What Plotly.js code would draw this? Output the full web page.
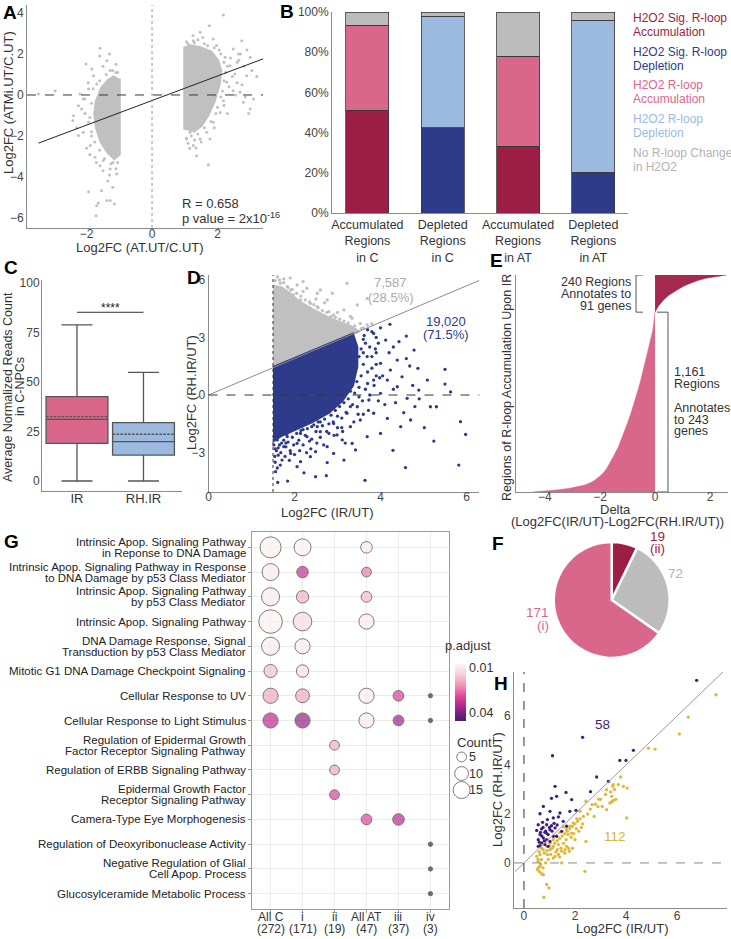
<!DOCTYPE html>
<html><head><meta charset="utf-8">
<script src="https://cdn.plot.ly/plotly-3.0.1.min.js"></script>
<style>html,body{margin:0;padding:0;background:#fff}#chart{width:731px;height:939px}</style>
</head><body><div id="chart"></div>
<script>
// ================= DATA =================
// Panel A: Log2FC (AT.UT/C.UT) vs Log2FC (ATMi.UT/C.UT)
const aRightCoreX = [1.0,1.0,1.2,1.5,1.8,2.0,2.1,2.05,1.9,1.7,1.5,1.25];
const aRightCoreY = [-1.7,2.3,2.4,2.3,2.1,1.7,1.2,0.5,-0.3,-1.0,-1.5,-1.8];
const aLeftCoreX = [-1.0,-1.0,-1.15,-1.35,-1.55,-1.7,-1.75,-1.7,-1.55,-1.35,-1.15];
const aLeftCoreY = [0.8,-2.9,-3.1,-2.8,-2.3,-1.6,-0.9,-0.3,0.3,0.7,0.9];
const aPtsX = [2.18,1.75,1.47,1.26,1.87,2.48,2.64,2.38,2.53,2.28,2.48,2.18,2.08,1.87,1.67,1.47,1.26,1.77,1.34,1.72,1.36,1.06,1.16,2.23,1.97,
  2.74,3.0,2.89,2.69,2.79,3.1,3.0,2.8,2.9,3.05,2.75,3.2,2.85,2.65,2.95,
  1.05,1.1,1.3,1.4,1.6,1.7,1.9,2.1,2.2,2.25,2.2,2.15,2.1,2.0,1.95,1.8,1.6,1.4,1.2,1.05,1.1,1.3,2.3,2.35,2.4,2.2,2.45,2.6,2.55,1.5,1.9,2.05,1.55,1.25,1.15,2.3,2.6,2.7,
  -1.59,-1.38,-2.02,-1.79,-1.69,-1.94,-2.2,-2.4,-2.96,-3.47,-2.15,-1.94,-2.1,-1.89,-1.74,-1.59,-1.28,-1.08,-1.94,-1.54,-1.38,-1.28,-1.15,-1.64,-1.71,-1.69,-2.25,-1.49,-1.18,-2.25,-2.05,-1.84,-1.28,-1.13,-2.42,-1.85,-1.9,-1.2,-1.1,
  -1.05,-1.2,-1.4,-1.6,-1.8,-1.85,-1.9,-1.85,-1.75,-1.6,-1.45,-1.25,-1.05,-1.1,-1.3,-1.5,-1.7,-2.0,-2.05,-1.95,-1.5,-1.1,-2.3,-2.1,-1.35,-1.2,-1.6,-1.3];
const aPtsY = [3.9,3.38,3.06,2.65,2.73,2.24,2.0,1.43,1.02,0.62,0.21,-0.28,-0.85,-1.33,-1.82,-2.15,-2.47,-2.15,-2.59,-3.4,-2.96,-2.15,-1.82,1.84,2.41,
  2.65,1.84,0.94,0.13,-0.36,-0.2,-0.68,1.4,2.2,1.2,0.5,0.9,-0.1,1.7,-0.9,
  2.6,2.5,2.55,2.7,2.5,2.4,2.3,2.0,1.6,1.1,0.7,0.2,-0.1,-0.6,-0.9,-1.3,-1.6,-1.9,-2.0,-2.1,-2.35,-2.2,1.4,0.4,1.8,-0.5,0.9,1.6,0.0,-2.3,-1.6,2.2,2.8,2.9,-2.6,-0.9,0.6,2.0,
  2.28,1.67,1.51,0.94,0.54,0.29,0.05,-1.01,0.21,0.05,-0.68,-1.33,-1.82,-2.47,-3.04,-3.45,-3.61,-3.85,-4.72,-4.67,-5.15,-5.15,-5.32,-5.27,-5.89,-5.4,-1.98,-3.2,-2.96,-0.52,-0.2,1.27,1.19,0.86,-1.25,-2.0,-2.9,-3.3,1.1,
  1.1,1.2,1.0,0.7,0.3,-0.4,-1.1,-1.8,-2.3,-2.7,-3.1,-3.35,-3.3,-3.6,-3.9,-3.7,-3.3,-2.6,-0.9,0.6,1.4,1.5,-1.6,-0.2,-4.2,-4.5,1.9,2.0];
const aFitX = [-3.47, 3.39];
const aFitY = [-2.35, 1.76];

// Panel B: stacked shares
const bCats = ['Accumulated<br>Regions<br>in C','Depleted<br>Regions<br>in C','Accumulated<br>Regions<br>in AT','Depleted<br>Regions<br>in AT'];
const bSigAcc = [0.512,0,0.333,0];
const bSigDep = [0,0.423,0,0.204];
const bAcc = [0.423,0,0.447,0];
const bDep = [0,0.557,0,0.756];
const bNone = [0.065,0.020,0.220,0.040];
const bLegend = [['H2O2 Sig. R-loop','Accumulation'],['H2O2 Sig. R-loop','Depletion'],['H2O2 R-loop','Accumulation'],['H2O2 R-loop','Depletion'],['No R-loop Change','in H2O2']];

// Panel C: box statistics
const cCats = ['IR','RH.IR'];
const cQ1 = [19.0,13.1], cMed = [31.1,19.9], cQ3 = [42.6,29.5], cLow = [0,0], cHigh = [78.8,54.9], cMean = [32.5,23.6];
const cSigY = [85.2,85.2];

// Panel D
const dGrayCoreX = [1.5,3.5,3.3,3.0,2.7,2.4,2.1,1.9,1.7,1.5];
const dGrayCoreY = [1.42,3.31,3.6,3.85,4.15,4.5,4.9,5.3,5.6,5.7];
const dGrayX = [3.22,3.69,3.46,3.15,2.91,3.34,3.53,2.76,2.53,2.29,2.06,1.83,1.67,2.14,1.91,2.53,2.37,2.99,3.69,3.11,2.8,1.56,1.6,1.97,2.6,2.88,1.75,2.2,3.8,
  1.55,1.65,1.75,1.85,1.95,2.05,2.15,2.25,2.35,2.45,2.55,2.65,2.75,2.85,2.95,3.05,3.15,3.25,3.4,3.55,3.6,2.2,2.5,2.7,1.6,1.9,3.0,3.3];
const dGrayY = [5.82,5.03,4.69,4.43,4.17,4.0,3.73,4.95,5.3,5.56,5.73,5.64,5.82,4.95,5.47,4.6,4.77,3.82,3.65,3.56,4.34,5.38,4.95,5.21,5.47,5.3,6.05,5.9,3.7,
  5.95,6.0,5.85,5.6,5.5,5.3,5.15,4.95,4.85,4.7,4.55,4.4,4.3,4.1,4.05,3.95,3.85,3.75,3.6,3.45,3.5,5.4,5.0,4.8,6.15,6.1,4.3,4.1];
const dBlueCoreX = [1.5,3.35,3.45,3.45,3.35,3.1,2.8,2.4,2.0,1.7,1.5];
const dBlueCoreY = [1.42,3.17,2.5,1.5,0.5,-0.3,-0.9,-1.4,-1.8,-2.1,-2.4];
const dBlueX = [4.22,4.6,4.78,4.43,4.12,3.84,4.87,4.68,5.5,5.09,5.5,5.63,5.16,5.3,5.02,5.24,5.86,5.98,5.82,4.58,4.29,3.64,1.84,1.61,2.49,2.74,
  4.47,4.16,4.54,4.62,4.89,4.39,4.16,4.0,3.69,3.42,3.15,2.91,2.76,2.37,2.14,1.91,1.67,1.56,1.75,2.06,2.29,2.6,2.99,3.3,3.53,3.84,3.73,4.0,3.84,4.0,3.69,4.39,4.23,4.5,
  3.46,3.22,2.91,2.53,2.14,1.83,1.6,3.11,3.34,2.76,2.49,1.62,1.71,2.06,2.22,
  3.6,3.75,3.9,3.8,3.9,3.7,3.5,3.3,3.0,2.6,2.2,1.8,1.55,1.65,2.4,2.8,3.1,3.6,4.1,4.3,4.05,4.2,4.3,3.95,4.6,4.75,4.35,4.8,4.7,4.9,
  1.52,1.58,1.54,1.62,1.68,1.55,1.6,1.7,1.75,1.8,1.85,1.9,1.95,1.78,1.88,1.98,2.0,1.82,
  2.05,2.1,2.15,2.2,2.25,2.3,2.35,2.12,2.28,2.4,2.38,2.18,2.45,2.5,2.55,2.6,2.65,2.7,2.75,2.52,2.68,2.8,2.58,
  2.85,2.9,2.95,3.0,3.05,3.1,3.15,3.2,2.92,3.12,3.18,3.25,3.3,3.35,3.4,3.45,3.5,3.55,3.6,3.5,3.55,3.6,3.48,3.38,3.58,
  3.65,3.7,3.75,3.8,3.85,3.9,3.95,3.65,3.72,3.88,3.98,3.62,3.7,3.8,4.0,3.9];
const dBlueY = [3.68,3.07,2.34,2.78,2.86,3.21,1.39,1.51,1.34,0.78,0.57,0.16,-0.61,-0.61,-1.7,-2.4,-1.39,-2.05,-3.65,-3.78,-2.88,-4.44,-4.48,-4.55,-4.25,-4.2,
  -1.65,-1.22,-0.92,-0.17,0.26,0.43,0.78,-2.0,-2.17,-2.86,-3.39,-3.04,-3.52,-3.21,-3.47,-3.04,-3.65,-3.99,-2.69,-2.52,-2.17,-1.91,-2.08,-1.65,-1.3,-0.95,-0.26,0.09,0.78,1.65,2.0,1.82,1.3,0.95,
  -0.61,-0.95,-1.48,-1.65,-2.0,-2.17,-2.34,-2.34,-2.52,-2.69,-2.95,-3.13,-3.39,-3.73,-4.05,
  2.9,2.5,2.2,1.4,1.0,0.6,-0.1,-0.6,-1.1,-1.4,-1.8,-2.5,-2.8,-2.6,-2.3,-2.0,-1.7,-1.0,-0.5,0.3,1.0,2.2,2.5,2.7,1.9,0.5,-0.4,-0.6,-1.3,-0.2,
  -2.6,-2.9,-3.2,-2.75,-3.0,-3.5,-3.8,-2.5,-2.35,-2.7,-2.45,-2.9,-2.2,-3.2,-3.4,-2.6,-3.1,-2.05,
  -2.0,-2.35,-1.85,-2.6,-2.1,-1.75,-2.4,-2.9,-3.0,-1.65,-2.8,-1.6,-1.55,-1.9,-1.4,-2.2,-1.6,-1.25,-1.9,-2.5,-2.6,-1.5,-1.1,
  -1.05,-1.4,-0.8,-1.7,-0.6,-1.2,-0.4,-0.9,-2.1,-1.9,-2.5,-0.2,0.2,-0.5,0.1,0.7,0.4,1.0,1.6,2.0,2.4,2.2,-1.0,-1.4,-0.3,
  0.3,1.2,0.0,2.0,0.5,1.6,-0.3,2.7,-0.8,2.4,0.9,3.1,3.4,3.3,3.5,3.0];
const dDiagX = [0, 6.3];
const dDiagY = [0, 5.97];
const dCutoff = 1.5;

// Panel E: sorted delta per region (rank from bottom)
const ePinkRank = [0,3,8,15,24,35,45,60,77,100,120,150,185,240,292,350,400,450,507,560,615,670,722,780,830,885,937,990,1045,1100,1161];
const ePinkDelta = [-4.45,-4.2,-3.9,-3.5,-3.1,-2.75,-2.55,-2.35,-2.18,-2.02,-1.9,-1.76,-1.64,-1.48,-1.33,-1.2,-1.09,-0.99,-0.88,-0.78,-0.69,-0.6,-0.52,-0.44,-0.36,-0.29,-0.22,-0.15,-0.08,-0.04,0];
const eDarkRank = [1161,1200,1238,1270,1303,1330,1346,1365,1380,1392,1401];
const eDarkDelta = [0,0.12,0.3,0.5,0.79,1.05,1.27,1.55,1.85,2.2,2.6];

// Panel F: pie
const fValues = [19,72,171];
const fTop = ['19','72','171'];
const fSub = ['(ii)','','(i)'];

// Panel G: enrichment dot plot
const gCols = ['All C','i','ii','All AT','iii','iv'];
const gColN = ['(272)','(171)','(19)','(47)','(37)','(3)'];
const gTerms = [
 ['Intrinsic Apop. Signaling Pathway','in Reponse to DNA Damage'],
 ['Intrinsic Apop. Signaling Pathway in Response','to DNA Damage by p53 Class Mediator'],
 ['Intrinsic Apop. Signaling Pathway','by p53 Class Mediator'],
 ['Intrinsic Apop. Signaling Pathway'],
 ['DNA Damage Response, Signal','Transduction by p53 Class Mediator'],
 ['Mitotic G1 DNA Damage Checkpoint Signaling'],
 ['Cellular Response to UV'],
 ['Cellular Response to Light Stimulus'],
 ['Regulation of Epidermal Growth','Factor Receptor Signaling Pathway'],
 ['Regulation of ERBB Signaling Pathway'],
 ['Epidermal Growth Factor','Receptor Signaling Pathway'],
 ['Camera-Type Eye Morphogenesis'],
 ['Regulation of Deoxyribonuclease Activity'],
 ['Negative Regulation of Glial','Cell Apop. Process'],
 ['Glucosylceramide Metabolic Process']];
const gCellCol = [0,1,3, 0,1,3, 0,1,3, 0,1,3, 0,1, 0,1, 0,1,3,4,5, 0,1,3,4,5, 2, 2, 2, 3,4, 5, 5, 5];
const gCellRow = [0,0,0, 1,1,1, 2,2,2, 3,3,3, 4,4, 5,5, 6,6,6,6,6, 7,7,7,7,7, 8, 9, 10, 11,11, 12, 13, 14];
const gCellCount = [23,15,7, 15,7,5, 17,8,6, 29,18,12, 17,12, 9,8, 12,10,12,6,1, 12,12,12,6,1, 5, 5, 5, 6,7, 1, 1, 1];
const gCellP = [0.008,0.008,0.009, 0.009,0.033,0.024, 0.009,0.018,0.017, 0.008,0.012,0.009, 0.009,0.009, 0.016,0.011,
  0.019,0.019,0.009,0.030,0.045, 0.034,0.038,0.009,0.037,0.045, 0.018, 0.019, 0.029, 0.029,0.034, 0.045, 0.045, 0.045];
const gLegendCounts = [5,10,15];
const gPTicks = [0.01, 0.04];

// Panel H
const hPurpleX = [6.77,2.30,1.12,4.29,3.76,4.0,2.85,3.31,2.61,1.22,1.28,1.08,1.65,1.87,0.76,0.63,1.02,1.41,1.35,1.80,2.04,1.15,0.92,0.73,0.56,0.89,1.08,1.22,0.69,1.02,0.50,0.82,0.63,0.95,1.15,0.76,0.56,0.89,0.69,0.63,0.82,1.02,1.28,1.48,1.67,1.54,0.56,0.95,
  0.7,0.85,1.0,0.6,0.75,0.9,1.1,1.3,0.65,1.18,0.8];
const hPurpleY = [7.46,5.13,4.38,4.6,4.19,4.19,3.51,3.33,2.91,3.13,2.72,2.64,2.88,2.59,2.31,2.01,2.11,2.04,1.88,2.11,2.15,1.84,1.77,1.66,1.56,1.56,1.52,1.43,1.39,1.36,1.33,1.25,1.16,1.16,1.09,1.02,0.95,0.95,0.82,0.71,0.75,0.88,1.09,1.29,1.50,1.70,0.68,0.68,
  1.1,1.3,1.45,0.85,1.45,1.2,1.3,1.55,1.25,1.62,0.9];
const hYellowX = [7.53,6.44,6.09,4.88,5.14,3.79,3.50,3.48,3.90,4.05,3.44,3.50,3.37,3.24,2.92,2.67,3.07,3.24,4.03,2.75,2.43,2.20,2.33,2.07,1.93,1.80,1.67,1.54,1.41,1.73,1.86,2.43,2.39,1.28,1.15,1.02,0.89,0.76,1.31,1.48,1.61,1.78,1.67,1.22,1.48,0.92,0.63,0.56,0.63,0.52,0.69,0.76,0.89,0.98,0.78,0.50,0.63,0.82,1.02,1.35,1.15,0.69,0.56,
  0.6,0.7,0.8,0.9,1.0,1.1,1.2,1.3,1.4,1.5,1.6,1.7,1.8,1.9,2.0,2.1,2.2,1.55,1.65,1.75,1.85,1.95,2.05,2.3,2.5,2.6,2.8,3.0,3.2,3.4,3.55,3.6,3.7,3.45,2.9,1.05,1.15,0.95,1.35,1.45,0.85,0.75,0.65,0.55,0.6,1.25,1.4,1.6,1.9,2.0,2.15,2.25];
const hYellowY = [6.87,5.96,5.27,4.69,4.65,3.51,3.20,3.13,3.13,3.06,2.72,2.56,2.45,2.99,2.61,2.38,2.31,2.18,1.84,1.90,2.52,2.11,1.90,1.80,1.63,1.50,1.36,1.47,1.25,1.16,1.22,0.88,-0.34,1.09,0.95,0.82,0.68,0.54,0.54,0.48,0.54,0.48,0.68,0.27,0.0,0.34,0.34,0.07,-0.14,-0.27,-0.44,-0.48,-0.88,-1.02,-1.4,0.27,0.68,0.82,0.54,0.75,0.68,0.14,-0.2,
  0.45,0.6,0.4,0.5,0.7,0.6,0.8,0.9,1.0,1.1,1.2,1.3,1.4,1.5,1.6,1.7,1.8,0.8,0.95,0.6,1.05,1.2,1.4,1.6,2.0,2.2,2.4,2.6,2.8,2.9,3.0,2.6,3.2,2.5,2.3,0.35,0.2,0.15,0.35,0.6,0.0,-0.2,-0.05,0.15,-0.35,0.45,0.25,0.4,0.6,0.95,1.3,1.45];
const hDiagX = [-0.35, 7.96];
const hDiagY = [-0.35, 7.96];
const hCounts = ['58','112'];

// ================= STYLE / LAYOUT =================
const W = 731, H = 939;
const FONT = 'Liberation Sans, Arial, Helvetica, sans-serif';
const px = x => x / W, py = y => 1 - y / H;
const dx = (a, b) => [px(a), px(b)];
const dy = (top, bottom) => [py(bottom), py(top)];
const C = {darkred:'#9c1e44', pink:'#d9678c', navy:'#2e3b8b', lblue:'#9cb9df', gray:'#bcbcbc',
  ptgray:'#c0c0c0', purple:'#3f1f7c', yellow:'#e0b737', edark:'#a6284f'};

function ax(domain, range, extra) {
  return Object.assign({domain: domain, range: range, showgrid:false, zeroline:false, showline:true,
    linecolor:'#8a8a8a', linewidth:1, ticks:'', tickfont:{family:FONT, size:12, color:'#444'},
    fixedrange:true, automargin:false}, extra || {});
}

const traces = [];
// ---- A
traces.push({type:'scatter', mode:'lines', x:aLeftCoreX, y:aLeftCoreY, fill:'toself', fillcolor:C.ptgray, line:{width:3, color:C.ptgray}, xaxis:'x', yaxis:'y', hoverinfo:'skip'});
traces.push({type:'scatter', mode:'lines', x:aRightCoreX, y:aRightCoreY, fill:'toself', fillcolor:C.ptgray, line:{width:3, color:C.ptgray}, xaxis:'x', yaxis:'y', hoverinfo:'skip'});
traces.push({type:'scatter', mode:'markers', x:aPtsX, y:aPtsY, marker:{size:3, color:C.ptgray}, xaxis:'x', yaxis:'y'});
traces.push({type:'scatter', mode:'lines', x:aFitX, y:aFitY, line:{color:'#222', width:1}, xaxis:'x', yaxis:'y'});

// ---- B
const bX = [0,1,2,3];
[[bSigAcc,C.darkred],[bSigDep,C.navy],[bAcc,C.pink],[bDep,C.lblue],[bNone,C.gray]].forEach(function(s){
  traces.push({type:'bar', x:bX, y:s[0], width:0.57, marker:{color:s[1], line:{color:'#3a3a3a', width:0.8}}, xaxis:'x2', yaxis:'y2'});
});

// ---- C
const cFill = [C.pink, C.lblue];
cCats.forEach(function(cat, i){
  traces.push({type:'box', x:[cat], q1:[cQ1[i]], median:[cMed[i]], q3:[cQ3[i]], lowerfence:[cLow[i]], upperfence:[cHigh[i]], mean:[cMean[i]],
    boxmean:true, width:0.93, fillcolor:cFill[i], line:{color:'#555', width:1.3}, boxpoints:false, xaxis:'x3', yaxis:'y3'});
});
traces.push({type:'scatter', mode:'lines', x:cCats, y:cSigY, line:{color:'#333', width:1}, xaxis:'x3', yaxis:'y3'});

// ---- D
traces.push({type:'scatter', mode:'lines', x:dGrayCoreX, y:dGrayCoreY, fill:'toself', fillcolor:C.ptgray, line:{width:2, color:C.ptgray}, xaxis:'x4', yaxis:'y4'});
traces.push({type:'scatter', mode:'markers', x:dGrayX, y:dGrayY, marker:{size:3.3, color:C.ptgray}, xaxis:'x4', yaxis:'y4'});
traces.push({type:'scatter', mode:'lines', x:dBlueCoreX, y:dBlueCoreY, fill:'toself', fillcolor:C.navy, line:{width:3, color:C.navy}, xaxis:'x4', yaxis:'y4'});
traces.push({type:'scatter', mode:'markers', x:dBlueX, y:dBlueY, marker:{size:3.3, color:C.navy}, xaxis:'x4', yaxis:'y4'});
traces.push({type:'scatter', mode:'lines', x:dDiagX, y:dDiagY, line:{color:'#8a8a8a', width:1}, xaxis:'x4', yaxis:'y4'});

// ---- E
traces.push({type:'scatter', mode:'lines', x:ePinkDelta, y:ePinkRank, fill:'tozerox', fillcolor:C.pink, line:{color:C.pink, width:0.5}, xaxis:'x5', yaxis:'y5'});
traces.push({type:'scatter', mode:'lines', x:eDarkDelta, y:eDarkRank, fill:'tozerox', fillcolor:C.edark, line:{color:C.edark, width:0.5}, xaxis:'x5', yaxis:'y5'});

// ---- F
traces.push({type:'pie', values:fValues, sort:false, direction:'clockwise', rotation:0, textinfo:'none', hoverinfo:'skip',
  marker:{colors:[C.darkred, C.gray, C.pink], line:{color:'#fff', width:2.5}},
  domain:{x:dx(553.7, 669.7), y:dy(542, 658)}});

// ---- G
const pMin = 0.0073, pMax = 0.0453;
const gColorscale = [[0,'#45206c'],[0.14,'#7a2181'],[0.27,'#b5268d'],[0.45,'#e44a9f'],[0.62,'#ee92b6'],[0.8,'#f6cbd7'],[1,'#fdf6f3']];
traces.push({type:'scatter', mode:'markers', x:gCellCol, y:gCellRow, xaxis:'x6', yaxis:'y6',
  marker:{size:gCellCount, sizemode:'area', sizeref:1/9.61, sizemin:2, color:gCellP.map(function(p){return -p;}),
    cmin:-pMax, cmax:-pMin, colorscale:gColorscale, line:{color:'#333', width:0.9},
    colorbar:{x:px(455), xanchor:'left', y:py(692), yanchor:'middle', len:57, lenmode:'pixels', thickness:11, thicknessmode:'pixels',
      outlinewidth:0, xpad:0, ypad:0, ticks:'', tickvals:gPTicks.map(function(p){return -p;}), ticktext:gPTicks.map(function(p){return String(p);}),
      tickfont:{family:FONT, size:12.5, color:'#333'}}}});
traces.push({type:'scatter', mode:'markers', cliponaxis:false, x:gLegendCounts.map(function(){return 0.33;}), y:gLegendCounts.map(function(_, i){return i;}), xaxis:'x8', yaxis:'y8',
  marker:{size:gLegendCounts, sizemode:'area', sizeref:1/9.61, color:'rgba(0,0,0,0)', line:{color:'#333', width:0.9}}});

// ---- H
traces.push({type:'scatter', mode:'markers', x:hYellowX, y:hYellowY, marker:{size:3.3, color:C.yellow}, xaxis:'x7', yaxis:'y7'});
traces.push({type:'scatter', mode:'markers', x:hPurpleX, y:hPurpleY, marker:{size:3.3, color:C.purple}, xaxis:'x7', yaxis:'y7'});
traces.push({type:'scatter', mode:'lines', x:hDiagX, y:hDiagY, line:{color:'#999', width:1}, xaxis:'x7', yaxis:'y7'});

// ---- Annotations
const ann = [];
function T(text, x, y, o) {
  o = o || {};
  ann.push(Object.assign({text:text, x:px(x), y:py(y), xref:'paper', yref:'paper', showarrow:false,
    xanchor:o.xa || 'center', yanchor:'middle', textangle:o.rot || 0,
    font:{family:FONT, size:o.size || 13, color:o.color || '#333'}}, o.extra || {}));
}
function L(letter, x, y) { T('<b>' + letter + '</b>', x, y, {xa:'left', size:19, color:'#000'}); }
L('A', 1, 13); L('B', 278, 12); L('C', 2, 267); L('D', 185, 277); L('E', 488, 260); L('F', 490, 543); L('G', 2, 541); L('H', 492, 683);

// A
T('Log2FC (ATMi.UT/C.UT)', 8, 103, {rot:-90});
T('Log2FC (AT.UT/C.UT)', 140, 248);
T('R = 0.658', 180, 203, {xa:'left'});
T('p value = 2x10<sup>-16</sup>', 180, 218, {xa:'left'});
// B legend
const bLegCol = [C.darkred, C.navy, C.pink, C.lblue, '#b3b3b3'];
bLegend.forEach(function(l, i){
  T(l[0], 631, 18 + i * 33.7, {xa:'left', color:bLegCol[i], size:12});
  T(l[1], 631, 32 + i * 33.7, {xa:'left', color:bLegCol[i], size:12});
});
// C
T('Average Normalized Reads Count', 8, 387, {rot:-90, size:12.5});
T('in C-NPCs', 20, 387, {rot:-90, size:12.5});
T('****', 110, 308, {size:12, color:'#222'});
// D
T('Log2FC (RH.IR/UT)', 191, 393, {rot:-90});
T('Log2FC (IR/UT)', 327, 512);
T('7,587', 390, 283, {color:'#aaaaaa'});
T('(28.5%)', 391, 297, {color:'#aaaaaa'});
T('19,020', 446, 321, {color:C.navy});
T('(71.5%)', 446, 334, {color:C.navy});
// E
T('Regions of R-loop Accumulation Upon IR', 507, 388, {rot:-90, size:12.5});
T('Delta', 615, 509);
T('(Log2FC(IR/UT)-Log2FC(RH.IR/UT))', 617, 521);
['240 Regions','Annotates to','91 genes'].forEach(function(s, i){ T(s, 633, 282 + i * 12, {xa:'right', size:12.5}); });
[['1,161',372],['Regions',383.5],['Annotates',408],['to 243',419.5],['genes',431]].forEach(function(s){ T(s[0], 672, s[1], {xa:'left', size:12.5}); });
// F
const fCol = [C.darkred, '#b3b3b3', C.pink];
T(fTop[0], 657, 536, {color:fCol[0], size:13.5}); T(fSub[0], 657, 548.5, {color:fCol[0], size:13.5});
T(fTop[1], 675, 573, {color:fCol[1], size:13.5});
T(fTop[2], 551, 612, {xa:'right', color:fCol[2], size:13.5}); T(fSub[2], 551, 625, {xa:'right', color:fCol[2], size:13.5});
// G row labels
gTerms.forEach(function(lines, r){
  lines.forEach(function(s, k){
    const shift = lines.length === 1 ? 0 : (k === 0 ? 5.5 : -5.5);
    ann.push({text:s, xref:'paper', x:px(248), xanchor:'right', yref:'y6', y:r, yanchor:'middle', yshift:shift, showarrow:false,
      font:{family:FONT, size:11.5, color:'#222'}});
  });
});
gCols.forEach(function(c, i){
  ann.push({text:c, xref:'x6', x:i, yref:'paper', y:py(917), yanchor:'middle', showarrow:false, font:{family:FONT, size:12, color:'#333'}});
  ann.push({text:gColN[i], xref:'x6', x:i, yref:'paper', y:py(928.5), yanchor:'middle', showarrow:false, font:{family:FONT, size:12, color:'#333'}});
});
T('p.adjust', 443, 645, {xa:'left'});
T('Count', 455, 742, {xa:'left'});
gLegendCounts.forEach(function(n, i){
  ann.push({text:String(n), xref:'paper', x:px(467), xanchor:'left', yref:'y8', y:i, yanchor:'middle', showarrow:false, font:{family:FONT, size:12.5, color:'#333'}});
});
// H
T('Log2FC (IR/UT)', 622, 928);
T('Log2FC (RH.IR/UT)', 497, 790, {rot:-90});
T(hCounts[0], 602, 724, {color:C.purple, size:13.5});
T(hCounts[1], 615, 836, {color:'#d9b23a', size:13.5});

// ---- Shapes (reference lines, brackets)
const shapes = [
  {type:'line', xref:'x', yref:'y domain', x0:0, x1:0, y0:0, y1:1, line:{color:'#999', width:1, dash:'dot'}},
  {type:'line', xref:'x domain', yref:'y', x0:0, x1:1, y0:0, y1:0, line:{color:'#333', width:1, dash:'dash'}},
  {type:'line', xref:'x4', yref:'y4 domain', x0:dCutoff, x1:dCutoff, y0:0, y1:1, line:{color:'#333', width:1, dash:'dot'}},
  {type:'line', xref:'x4 domain', yref:'y4', x0:0, x1:1, y0:0, y1:0, line:{color:'#333', width:1, dash:'dash'}},
  {type:'line', xref:'x7', yref:'y7 domain', x0:0, x1:0, y0:0, y1:1, line:{color:'#333', width:1, dash:'dash'}},
  {type:'line', xref:'x7 domain', yref:'y7', x0:0, x1:1, y0:0, y1:0, line:{color:'#888', width:1, dash:'dash'}},
  {type:'path', xref:'x5', yref:'y5', path:'M -0.44 1401 L -0.69 1401 L -0.69 1161 L -0.44 1161', line:{color:'#555', width:1}},
  {type:'path', xref:'x5', yref:'y5', path:'M 0.07 1161 L 0.47 1161 L 0.47 0 L 0.07 0', line:{color:'#555', width:1}}
];

const layout = {
  width:W, height:H, margin:{l:0, r:0, t:0, b:0}, paper_bgcolor:'#fff', plot_bgcolor:'rgba(0,0,0,0)',
  showlegend:false, barmode:'stack', font:{family:FONT, color:'#333'},
  xaxis: ax(dx(27,263), [-3.82,3.39], {anchor:'y', tickvals:[-2,0,2], ticklabelstandoff:-5}),
  yaxis: ax(dy(5,228), [-6.49,4.39], {anchor:'x', tickvals:[-6,-4,-2,0,2,4]}),
  xaxis2: ax(dx(332,628), [-0.47,3.46], {anchor:'y2', tickvals:bX, ticktext:bCats, tickfont:{family:FONT, size:12.5, color:'#333'}}),
  yaxis2: ax(dy(12,213), [0,1], {anchor:'x2', tickvals:[0,0.2,0.4,0.6,0.8,1], tickformat:'.0%'}),
  xaxis3: ax(dx(42,182), [-0.526,1.579], {anchor:'y3', type:'category', ticklabelstandoff:-5, tickfont:{family:FONT, size:13, color:'#333'}}),
  yaxis3: ax(dy(280,491), [-5.05,101.5], {anchor:'x3', tickvals:[0,25,50,75,100], ticklabelstandoff:-1}),
  xaxis4: ax(dx(208.5,479.4), [0,6.3], {anchor:'y4', tickvals:[0,2,4,6], ticklabelstandoff:-6}),
  yaxis4: ax(dy(275,492), [-5.05,6.25], {anchor:'x4', tickvals:[-3,0,3,6]}),
  xaxis5: ax(dx(516,728), [-5.05,2.65], {anchor:'y5', tickvals:[-4,-2,0,2], ticklabelstandoff:-6}),
  yaxis5: ax(dy(275,492), [0,1401], {anchor:'x5', showticklabels:false}),
  xaxis6: ax(dx(252,449), [-0.58,5.58], {anchor:'y6', showticklabels:false, showgrid:true, gridcolor:'#ebebeb', tickvals:[0,1,2,3,4,5], mirror:true, linecolor:'#9a9a9a', ticks:'outside', ticklen:3, tickcolor:'#9a9a9a'}),
  yaxis6: ax(dy(532,909), [14.62,-0.62], {anchor:'x6', showticklabels:false, showgrid:true, gridcolor:'#ebebeb', tickvals:gTerms.map(function(_, i){return i;}), mirror:true, linecolor:'#9a9a9a', ticks:'outside', ticklen:3, tickcolor:'#9a9a9a'}),
  xaxis7: ax(dx(514,727), [-0.39,7.96], {anchor:'y7', tickvals:[0,2,4,6], ticklabelstandoff:-3}),
  yaxis7: ax(dy(672,908), [-1.84,7.8], {anchor:'x7', tickvals:[0,2,4,6]}),
  xaxis8: ax(dx(455,475), [0,1], {anchor:'y8', visible:false}),
  yaxis8: ax(dy(750,797), [2.42,-0.42], {anchor:'x8', visible:false}),
  annotations: ann, shapes: shapes
};

Plotly.newPlot('chart', traces, layout, {staticPlot:true, displayModeBar:false});
</script>
</body></html>
